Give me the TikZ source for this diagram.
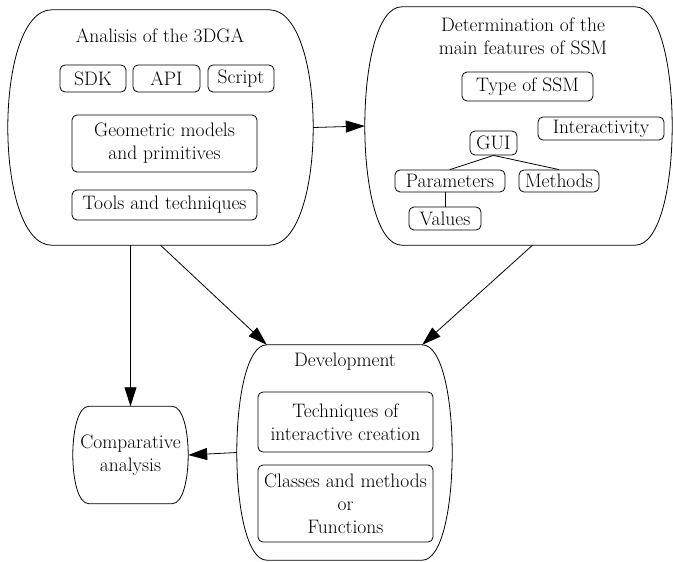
\documentclass[tikz,border=0pt]{standalone}
\usepackage{tikz}
\usetikzlibrary{arrows.meta,calc}

% barrel outline round a node: #1 node name, #2 inset of the corners
\newcommand{\drawbarrel}[2]{%
  \draw[line width=0.8pt] ([xshift=#2]#1.north west) -- ([xshift=-#2]#1.north east)
    .. controls ([xshift=#2/3]#1.north east) and ([xshift=#2/3]#1.south east) .. ([xshift=-#2]#1.south east)
    -- ([xshift=#2]#1.south west)
    .. controls ([xshift=-#2/3]#1.south west) and ([xshift=-#2/3]#1.north west) .. cycle;}

\begin{document}
\begin{tikzpicture}[
    x=1pt, y=-1pt,
    every node/.style={font=\fontsize{19.5}{23}\selectfont, align=center, inner sep=0pt},
    big/.style={minimum width=#1},
    sbox/.style={draw, line width=0.8pt, rounded corners=5pt},
    arr/.style={-{Triangle[length=19pt,width=12pt]}, line width=0.8pt},
    link/.style={line width=0.8pt}
]
    \fill[white] (0,0) rectangle (673,562);
    \useasboundingbox (0,0) rectangle (673,562);

    % outer barrels
    \node[big=305pt, minimum height=235pt] (ana)  at (160.5,127.5) {};
    \node[big=307pt, minimum height=238pt] (det)  at (518.5,126)   {};
    \node[big=215pt, minimum height=215pt] (dev)  at (344.5,452.5) {};
    \node[big=115pt, minimum height=97pt]  (comp) at (130.5,455) {Comparative\\analysis};
    \drawbarrel{ana}{44pt}
    \drawbarrel{det}{37pt}
    \drawbarrel{dev}{30pt}
    \drawbarrel{comp}{16pt}

    % Analisis of the 3DGA
    \node (anatitle) at (160,36) {Analisis of the 3DGA};
    \node[sbox, minimum width=66pt,  minimum height=27pt] (sdk)    at (93,78.5)    {SDK};
    \node[sbox, minimum width=67pt,  minimum height=27pt] (api)    at (166.5,78.5) {API};
    \node[sbox, minimum width=66pt,  minimum height=27pt] (script) at (241,78.5)   {Script};
    \node[sbox, minimum width=185pt, minimum height=57pt] (geom)   at (164.5,143.5) {Geometric models\\and primitives};
    \node[sbox, minimum width=185pt, minimum height=30pt] (tools)  at (164.5,205)   {Tools and techniques};

    % Determination of the main features of SSM
    \node (dettitle) at (523,36) {Determination of the\\main features of SSM};
    \node[sbox, minimum width=131pt, minimum height=29pt] (type)   at (527.5,86.5) {Type of SSM};
    \node[sbox, minimum width=126pt, minimum height=23pt] (inter)  at (601,128.5)  {Interactivity};
    \node[sbox, minimum width=47pt,  minimum height=24pt] (gui)    at (493.5,143)  {GUI};
    \node[sbox, minimum width=110pt, minimum height=22pt] (param)  at (450,181)    {Parameters};
    \node[sbox, minimum width=80pt,  minimum height=22pt] (meth)   at (559,181)    {Methods};
    \node[sbox, minimum width=72pt,  minimum height=23pt] (values) at (445,218.5)  {Values};
    \draw[link] (gui.south) -- (param.north);
    \draw[link] (gui.south) -- (meth.north);
    \draw[link] (values.north |- param.south) -- (values.north);

    % Development
    \node (devtitle) at (345,362) {Development};
    \node[sbox, minimum width=175pt, minimum height=60pt] (tech)    at (345.5,422)   {Techniques of\\interactive creation};
    \node[sbox, minimum width=175pt, minimum height=77pt] (classes) at (345.5,503.5) {Classes and methods\\or\\Functions};

    \draw[arr] (ana.east) -- (det.west);
    \draw[arr] (ana.south -| comp.north) -- (comp.north);
    \draw[arr] (ana.south) -- ([xshift=30pt]dev.north west);
    \draw[arr] ([xshift=14pt]det.south) -- ([xshift=-30pt]dev.north east);
    \draw[arr] (dev.west) -- (comp.east);
\end{tikzpicture}
\end{document}
